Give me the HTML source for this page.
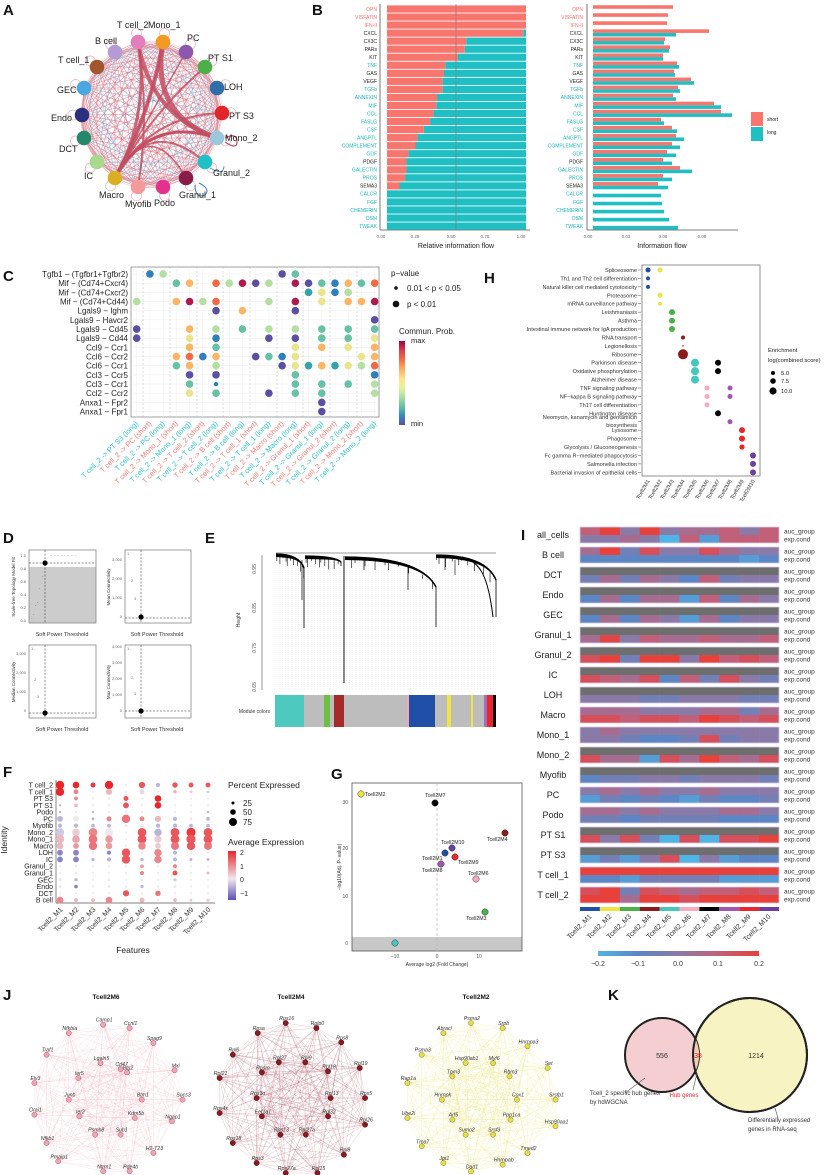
<!DOCTYPE html>
<html><head><meta charset="utf-8">
<style>
html,body{margin:0;padding:0;background:#fff;}
svg{display:block;font-family:"Liberation Sans",Arial,sans-serif;}
</style></head>
<body>
<svg id="s" width="830" height="1175" viewBox="0 0 830 1175" xmlns="http://www.w3.org/2000/svg"></svg>
<script>
const S=document.getElementById('s');const NS='http://www.w3.org/2000/svg';
function el(t,a,txt){const e=document.createElementNS(NS,t);for(const k in a)e.setAttribute(k,a[k]);if(txt!==undefined)e.textContent=txt;S.appendChild(e);return e;}
function R(x,y,w,h,f,o){return el('rect',Object.assign({x,y,width:w,height:h,fill:f},o||{}));}
function C(cx,cy,r,f,o){return el('circle',Object.assign({cx,cy,r,fill:f},o||{}));}
function L(x1,y1,x2,y2,s,w,o){return el('line',Object.assign({x1,y1,x2,y2,stroke:s,'stroke-width':w||1},o||{}));}
function T(x,y,s,sz,f,anc,rot,o){const a=Object.assign({x,y,'font-size':sz,fill:f||'#222','text-anchor':anc||'start'},o||{});if(rot)a.transform=`rotate(${rot} ${x} ${y})`;return el('text',a,s);}
function lerp(a,b,t){return a+(b-a)*t}
function hex(h){return [parseInt(h.slice(1,3),16),parseInt(h.slice(3,5),16),parseInt(h.slice(5,7),16)]}
function ramp(stops,v){
 if(v<=stops[0][0])return stops[0][1];if(v>=stops[stops.length-1][0])return stops[stops.length-1][1];
 for(let i=0;i<stops.length-1;i++){const [a,ca]=stops[i],[b,cb]=stops[i+1];if(v>=a&&v<=b){const t=(v-a)/(b-a),A=hex(ca),B=hex(cb);return `rgb(${Math.round(lerp(A[0],B[0],t))},${Math.round(lerp(A[1],B[1],t))},${Math.round(lerp(A[2],B[2],t))})`;}}}
[['A',3,15],['B',312,15],['C',3,281],['H',484,283],['D',3,543],['E',205,543],['I',521,540],['F',3,777],['G',331,779],['J',3,1000],['K',608,1000]].forEach(p=>T(p[1],p[2],p[0],15,'#111','start',0,{'font-weight':'bold'}));

// ===== Panel A =====
const A=[['T cell_2',138,42,'#E27FBA'],['Mono_1',163,42,'#F39A22'],['PC',186,52,'#8E57AE'],['PT S1',205,67,'#4DAF4A'],['LOH',217,88,'#2F6EA8'],['PT S3',222,113,'#E0262A'],['Mono_2',217,138,'#9CC8DE'],['Granul_2',205,162,'#1FC1C8'],['Granul_1',186,178,'#8A1C48'],['Podo',163,187,'#E2328E'],['Myofib',138,187,'#F59A9A'],['Macro',115,178,'#D9B021'],['IC',97,162,'#A9D98C'],['DCT',84,138,'#23896A'],['Endo',82,115,'#2A2F7E'],['GEC',84,88,'#4BA7DF'],['T cell_1',97,67,'#A2562C'],['B cell',115,52,'#B49BD3']];
for(let i=0;i<A.length;i++)for(let j=i+1;j<A.length;j++){const b=(i*7+j*3)%5==0;L(A[i][1],A[i][2],A[j][1],A[j][2],b?'#6FA7D6':'#CF6A7C',0.7,{opacity:0.6});
 if(!b&&(i+j)%3==0)el('path',{d:`M${A[i][1]},${A[i][2]} Q${(A[i][1]+A[j][1])/2+ (A[j][2]-A[i][2])*0.15},${(A[i][2]+A[j][2])/2-(A[j][1]-A[i][1])*0.15} ${A[j][1]},${A[j][2]}`,fill:'none',stroke:'#E29AA8','stroke-width':0.5,opacity:0.6});}
el('circle',{cx:150,cy:115,r:68,fill:'none',stroke:'#D88796','stroke-width':2.5,opacity:0.6});
[[11,1,4],[11,0,3],[0,6,4],[1,6,5],[11,6,3],[11,5,2],[11,3,2],[0,10,2],[11,2,1.5],[1,11,1.5],[6,11,2.5],[11,7,2],[11,8,1.5]].forEach(e=>{const a=A[e[0]],b=A[e[1]];el('path',{d:`M${a[1]},${a[2]} Q150,115 ${b[1]},${b[2]}`,fill:'none',stroke:'#C24D62','stroke-width':e[2],opacity:0.85});});
A.forEach(n=>{const dx=n[1]-150,dy=n[2]-115,d=Math.hypot(dx,dy);el('circle',{cx:n[1]+dx/d*9,cy:n[2]+dy/d*9,r:5,fill:'none',stroke:'#E4A0AE','stroke-width':0.6});});
el('path',{d:'M225,138 q12,-6 12,4 q0,8 -12,0',fill:'none',stroke:'#C24D62','stroke-width':1.2});
el('path',{d:'M195,185 q0,14 10,10 q6,-6 -6,-12',fill:'none',stroke:'#3B7FC4','stroke-width':1});
el('path',{d:'M210,168 q14,8 14,-2',fill:'none',stroke:'#3B7FC4','stroke-width':0.8});
A.forEach(n=>C(n[1],n[2],7.3,n[3]));
const AL={'T cell_2':[117,28],'Mono_1':[148,28],'PC':[187,41],'PT S1':[208,61],'LOH':[224,90],'PT S3':[229,119],'Mono_2':[225,141],'Granul_2':[213,176],'Granul_1':[179,198],'Podo':[154,206],'Myofib':[125,207],'Macro':[99,198],'IC':[84,179],'DCT':[59,152],'Endo':[51,121],'GEC':[57,93],'T cell_1':[58,63],'B cell':[95,44]};
for(const k in AL)T(AL[k][0],AL[k][1],k,9,'#222');

// ===== Panel B =====
const Bn=['OPN','VISFATIN','IFN-II','CXCL','CX3C','PARs','KIT','TNF','GAS','VEGF','TGFb','ANNEXIN','MIF','CCL','FASLG','CSF','ANGPTL','COMPLEMENT','GDF','PDGF','GALECTIN','PROS','SEMA3','CALCR','FGF','CHEMERIN','OSM','TWEAK'];
const Bf=[1,1,1,.98,.57,.56,.51,.42,.41,.40,.40,.36,.355,.335,.31,.265,.22,.205,.155,.14,.14,.13,.09,0,0,0,0,0];
const Bs=[80,75,74,116,72,77,70,84,81,98,85,80,121,128,68,79,83,79,74,70,87,70,65,0,0,0,0,0];
const Bl=[0,0,0,83,71,76,70,86,82,101,87,83,128,139,71,84,91,87,83,79,99,79,75,68,69,71,76,85];
const blk=['CXCL','CX3C','PARs','KIT','GAS','VEGF','PDGF','SEMA3'];
L(380,4,380,230,'#555',0.8);L(380,230,530,230,'#555',0.8);
L(587,4,587,230,'#555',0.8);L(587,230,738,230,'#555',0.8);
Bn.forEach((n,i)=>{const y=9+i*8.04;const col=i<3?'#F07069':(blk.includes(n)?'#222':'#1DB5BC');
 const w=139;R(387,y-3.6,w*Bf[i],7.2,'#F8766D');R(387+w*Bf[i],y-3.6,w*(1-Bf[i]),7.2,'#1FBFC4');
 T(377,y+1.8,n,5,col,'end');T(583,y+1.8,n,5,col,'end');
 if(Bs[i])R(593,y-3.8,Bs[i],3.6,'#F8766D');if(Bl[i])R(593,y-0.2,Bl[i],3.6,'#1FBFC4');});
L(456,4,456,230,'#777',0.6);
[['0.00',381],['0.25',415],['0.50',451],['0.75',485],['1.00',521]].forEach(t=>T(t[1],238,t[0],4.5,'#666','middle'));
[['0.00',588],['0.03',626],['0.06',663],['0.09',702]].forEach(t=>T(t[1],238,t[0],4.5,'#666','middle'));
T(456,248,'Relative information flow',7,'#222','middle');T(662,248,'Information flow',7,'#222','middle');
R(751,112,12,14,'#F8766D');R(751,127,12,14,'#1FBFC4');T(767,121,'short',5,'#222');T(767,134,'long',5,'#222');

// ===== Panel C =====
el('rect',{x:131,y:267,width:248,height:150,fill:'none',stroke:'#888','stroke-width':0.8});
const cx=c=>136.7+13.22*c, cy=r=>274+9.17*r;
for(let r=0;r<16;r++)L(131,cy(r),379,cy(r),'#eee',0.5);
for(let c=0;c<19;c++)L(cx(c),267,cx(c),417,'#f0f0f0',0.5);
[143,170,197,223,250,277,303,330,357].forEach(x=>L(x,267,x,417,'#bbb',0.5,{'stroke-dasharray':'2,2'}));
const CC={I:'#5B4FA3',B:'#2F7FBF',T:'#34A3A3',G:'#66C2A5',L:'#B4DFA2',Y:'#E9E58C',O:'#FDB564',R:'#F06A45',C:'#AE1A4C',b:'#2F7FBF'};
const CR=[".BL........IG......","...GO.RLCIL.CIGBOGR",".............TYBL..","L..OCLR...L.C.Y.OOC","......I.O...I......","..................I","I...O.L.G.L.L.G.G.G","I...Y.B...I.I.G.G.Y","....O.G.....Y.O.Y.O","...ORBO..IGBY....YO","...GO.L....IYTOTYLR","....I.I.....G.....B","....G.b.....G.G.G.L","....Y.G...I.G.G...L","..............I....","..............I...."];
CR.forEach((s,r)=>{for(let c=0;c<19;c++){const ch=s[c];if(ch!=='.')C(cx(c),cy(r),ch==='b'?2.2:3.8,CC[ch]);}});
["Tgfb1 − (Tgfbr1+Tgfbr2)","Mif  − (Cd74+Cxcr4)","Mif  − (Cd74+Cxcr2)","Mif  − (Cd74+Cd44)","Lgals9  − Ighm","Lgals9  − Havcr2","Lgals9  − Cd45","Lgals9  − Cd44","Ccl9  − Ccr1","Ccl6  − Ccr2","Ccl6  − Ccr1","Ccl3  − Ccr5","Ccl3  − Ccr1","Ccl2  − Ccr2","Anxa1  − Fpr2","Anxa1  − Fpr1"].forEach((s,r)=>T(128,cy(r)+3,s,8,'#222','end',0,{'xml:space':'preserve'}));
const tg=['PT S3','PC','PC','Mono_1','Mono_1','T cell_2','T cell_2','B cell','B cell','T cell_1','T cell_1','Macro','Macro','Granul_1','Granul_1','Granul_2','Granul_2','Mono_2','Mono_2'];
tg.forEach((t,c)=>{const lg=(c%2===0);T(cx(c)+2,424,`T cell_2 -> ${t} (${lg?'long':'short'})`,7.3,lg?'#2EC4C8':'#F47A74','end',-45);});
T(391,276,'p−value',8,'#222');C(396,288,1.8,'#111');T(407,291,'0.01 < p < 0.05',8,'#222');C(396,304,3.3,'#111');T(407,307,'p < 0.01',8,'#222');
T(399,334,'Commun. Prob.',8,'#222');T(411,343,'max',7.5,'#222');T(411,426,'min',7.5,'#222');
const defs=el('defs',{});
function grad(id,x2,y2,stops){const g=document.createElementNS(NS,'linearGradient');g.setAttribute('id',id);g.setAttribute('x1',0);g.setAttribute('y1',0);g.setAttribute('x2',x2);g.setAttribute('y2',y2);stops.forEach(s=>{const st=document.createElementNS(NS,'stop');st.setAttribute('offset',s[0]);st.setAttribute('stop-color',s[1]);g.appendChild(st);});defs.appendChild(g);}
grad('spec',0,1,['#9E0142','#D53E4F','#F46D43','#FDAE61','#FEE08B','#E6F598','#ABDDA4','#66C2A5','#3288BD','#5E4FA2'].map((c,i)=>[i/9,c]));
R(399,341,6,84,'url(#spec)');

// ===== Panel H =====
el('rect',{x:642,y:265,width:118,height:211,fill:'none',stroke:'#777','stroke-width':0.8});
const Ht=['Spliceosome','Th1 and Th2 cell differentiation','Natural killer cell mediated cytotoxicity','Proteasome','mRNA surveillance pathway','Leishmaniasis','Asthma','Intestinal immune network for IgA production','RNA transport','Legionellosis','Ribosome','Parkinson disease','Oxidative phosphorylation','Alzheimer disease','TNF signaling pathway','NF−kappa B signaling pathway','Th17 cell differentiation','Huntington disease','Neomycin, kanamycin and gentamicin','Lysosome','Phagosome','Glycolysis / Gluconeogenesis','Fc gamma R−mediated phagocytosis','Salmonella infection','Bacterial invasion of epithelial cells'];
const hy=i=>270+8.43*i;
Ht.forEach((t,i)=>{let y=hy(i);if(i===18)y=417;T(637,y+2,t,5.6,'#333','end');L(638,hy(i),641,hy(i),'#555',0.5);});
T(637,427,'biosynthesis',5.6,'#333','end');
const HX=[648,660,672,683,695,707,718,730,742,753];
const HC=['#1F4FA6','#EDE342','#4DAF4A','#8B1A1A','#45C7C0','#F7AABF','#000','#A057B0','#E8262B','#6A3FA0'];
[[0,0,2.5],[0,1,2.5],[1,0,2],[2,0,2],[3,1,2.5],[4,1,2],[5,2,3],[6,2,3],[7,2,3],[8,3,2],[9,3,0.8],[10,3,5],[11,4,4],[11,6,3],[12,4,4],[12,6,3],[13,4,4],[14,5,2.5],[14,7,2.5],[15,5,2.5],[15,7,2.5],[16,5,2.5],[17,6,3],[18,7,2.5],[19,8,3],[20,8,3],[21,8,2.6],[22,9,3],[23,9,3],[24,9,3]].forEach(d=>C(HX[d[1]],hy(d[0]),d[2],HC[d[1]]));
HX.forEach((x,i)=>T(x+2,481,'Tcell2M'+(i+1),5.5,'#333','end',-60));
T(768,352,'Enrichment',5.8,'#222');T(768,362,'log(combined score)',5.8,'#222');
[[373,2,'5.0'],[381,2.8,'7.5'],[391,3.6,'10.0']].forEach(d=>{C(773,d[0],d[1],'#000');T(781,d[0]+2,d[2],5.8,'#222');});

// ===== Panel D =====
function box(x,y,w,h){el('rect',{x,y,width:w,height:h,fill:'none',stroke:'#888','stroke-width':0.8});}
R(29,567,67,56,'#CCCCCC');box(29,550,67,73);box(125,550,66,73);box(29,645,67,73);box(125,645,66,73);
L(45,550,45,623,'#222',0.5,{'stroke-dasharray':'2,1.5'});L(29,563,96,563,'#222',0.5,{'stroke-dasharray':'2,1.5'});C(45,563,2.6,'#000');
T(50,557,'~ ~ ~ ~ ~ ~ ~ ~',4,'#777');
[[31,620],[33,616],[35,607],[37,604],[39,590],[42,578]].forEach(p=>T(p[0],p[1],'·',5,'#555'));
L(141,550,141,623,'#222',0.5,{'stroke-dasharray':'2,1.5'});L(125,618,191,618,'#222',0.5,{'stroke-dasharray':'2,1.5'});C(141,617,2.6,'#000');T(127,555,'1',4,'#777');T(131,582,'2',4,'#777');T(134,600,'3',4,'#777');
L(45,645,45,718,'#222',0.5,{'stroke-dasharray':'2,1.5'});L(29,713,96,713,'#222',0.5,{'stroke-dasharray':'2,1.5'});C(45,713,2.6,'#000');T(31,650,'1',4,'#777');T(34,681,'2',4,'#777');T(37,698,'3',4,'#777');
L(141,645,141,718,'#222',0.5,{'stroke-dasharray':'2,1.5'});L(125,711,191,711,'#222',0.5,{'stroke-dasharray':'2,1.5'});C(141,711,2.6,'#000');T(127,650,'1',4,'#777');T(131,679,'2',4,'#777');T(134,695,'3',4,'#777');
[[62,636],[157,636],[62,731],[157,731]].forEach(p=>T(p[0],p[1],'Soft Power Threshold',5.5,'#333','middle'));
T(15,587,'Scale-free Topology Model Fit',4.5,'#333','middle',-90);T(110,587,'Mean Connectivity',4.5,'#333','middle',-90);
T(15,682,'Median Connectivity',4.5,'#333','middle',-90);T(110,682,'Max Connectivity',4.5,'#333','middle',-90);
['1.0','0.8','0.6','0.4','0.2','0.0'].forEach((t,i)=>T(26,557+i*13,t,4,'#666','end'));
['3,000','2,000','1,000','0'].forEach((t,i)=>T(122,561+i*19,t,4,'#666','end'));
['3,000','2,000','1,000','0'].forEach((t,i)=>T(26,655+i*19,t,4,'#666','end'));
['4,000','3,000','2,000','1,000','0'].forEach((t,i)=>T(122,648+i*16,t,4,'#666','end'));

// ===== Panel E =====
for(let x=276;x<496;x+=3.2)L(x,560,x,690,'#ddd',0.4,{'stroke-dasharray':'1,1'});
L(262,555,262,690,'#555',0.6);
[['0.95',569],['0.85',608],['0.75',648],['0.65',687]].forEach(t=>T(256,t[1],t[0],5,'#555','middle',-90));
T(240,620,'Height',5,'#333','middle',-90);
L(276,553,496,553,'#333',0.6);
function clus(a,b,t,drop,dy,seed){
 for(let k=0;k<4;k++)el('path',{d:`M${a},${t+k*0.8} C${a+(b-a)*0.6},${t+k} ${b-(b-a)*0.1},${t+drop*0.4} ${b},${t+drop}`,fill:'none',stroke:'#000','stroke-width':1.2});
 for(let i=0;i<10;i++){const u=((i*37+seed)%100)/100;const x=a+(b-a)*u;const y0=t+Math.pow(u,3)*drop*0.9+1;L(x,y0,x,y0+3+((i*13+seed)%9),'#000',0.6);}
 L(b,t+drop,b,t+dy,'#000',0.8);}
clus(276,304,554,14,74,3);clus(305,341,556,6,10,7);L(344,556,344,683,'#000',0.9);clus(345,436,557,30,70,11);clus(436,496,555,25,62,5);
el('path',{d:'M462,557 C480,562 488,575 493,617',fill:'none',stroke:'#000','stroke-width':1});
L(302,560,302,600,'#000',0.7);L(408,565,408,590,'#000',0.7);L(364,559,364,570,'#000',0.7);L(445,558,445,570,'#000',0.6);L(455,560,455,575,'#000',0.6);
const EM=[[275,304,'#4EC9C0'],[304,324,'#BDBDBD'],[324,330,'#6DBE45'],[330,334,'#BDBDBD'],[334,344,'#A52A2A'],[344,407,'#BDBDBD'],[407,409,'#F4A6B8'],[409,435,'#1F4FA6'],[435,447,'#BDBDBD'],[447,451,'#F0E442'],[451,471,'#BDBDBD'],[471,473,'#F0E442'],[473,484,'#BDBDBD'],[484,487,'#A070C0'],[487,493,'#E8262B'],[493,496,'#000']];
EM.forEach(m=>R(m[0],695,m[1]-m[0],32,m[2]));
T(270,713,'Module colors',5,'#333','end');

// ===== Panel I =====
const IG=['all_cells','B cell','DCT','Endo','GEC','Granul_1','Granul_2','IC','LOH','Macro','Mono_1','Mono_2','Myofib','PC','Podo','PT S1','PT S3','T cell_1','T cell_2'];
const g=null;
const IT=[[1,2,0,2,0,0.5,0.5,1,0,1],[0.5,2,-0.5,1.5,0,0,1.5,0.5,0,0],g,g,g,g,g,g,g,[0.5,0.5,0.5,0,0,0,0.5,0.5,-0.5,0.5],[0,0.5,0,0,0,0,0,0,0,0],g,g,[0,0.5,0,0.5,0,0,0.5,0,0,0],[0.5,0.5,0,0.5,0,0,0,0.5,0.5,0],g,g,[2,2,2,2,2,2,2,2,2,2],[1.5,2,-0.5,1.5,1,0.5,1,1,1.5,1]];
const IB=[[0,0,0.5,0,-2,1,-1.5,1,1,1],[-1,-1,-1,-1,-1,-1,-1,-1,-1.5,-1],[-0.5,0.5,-0.5,0.5,0,-1,1,-0.5,0,0],[-1,0.5,-1,0.5,0.5,-1.5,1,-1,0.5,0],[-1,0.5,-1,0.5,0,-1.5,0.5,-1,0,0],[0.5,1.8,0,1,0.5,0.5,1,0.5,0.5,1],[1.5,2,-0.5,2,2,0,2,1,1.5,1],[1.5,1,0.5,1.5,-1,1,-0.5,1.5,0,-0.5],[0,0,0,-0.5,-0.5,0,0,0,-0.5,-0.5],[1.5,1.5,1,1.5,1.5,1,2,1.5,1,1.5],[0,0,-0.5,-1,-1,-0.5,1.5,-0.5,0,0],[1.5,0.5,0.5,-1.5,1.5,0.5,2,1,0.5,1.5],[-1,-0.5,-0.5,0,0,-0.5,0,0,0,-0.5],[-1.5,-0.5,-1,-0.5,-1,-1.5,-0.5,-1,-1,-0.5],[-0.5,-0.5,-1,-0.5,-0.5,-0.5,-0.5,-1,-1,-1],[1.5,0,1.5,-0.5,-2,1.5,-2,1.5,1.5,2],[-1.5,-0.5,-1.5,0,1.5,-2.5,0,-1.5,-1,-1],[-1,-1,-1.5,-0.5,-0.5,-0.5,-0.5,-1.5,-1.5,-1.5],[2,2,0.5,2,2,1.5,2,2,2,2]];
const IS=[[-2,'#4FB4E6'],[-1,'#5C86C4'],[0,'#8A7AA8'],[1,'#C2607A'],[2,'#E8403A']];
IG.forEach((n,k)=>{const y=527+k*20;const cw=19.9;
 for(let c=0;c<10;c++){const x=580+c*cw;
  R(x,y,cw+0.3,8,IT[k]?ramp(IS,IT[k][c]):'#6E6E6E');
  R(x,y+8,cw+0.3,8,ramp(IS,IB[k][c]));}
 el('rect',{x:580,y:y,width:199,height:16,fill:'none',stroke:'#D8CDE6','stroke-width':0.8});
 T(553,y+11,n,9,'#222','middle');T(784,y+6.5,'auc_group',6.5,'#333');T(784,y+14.5,'exp.cond',6.5,'#333');});
HC.forEach((c,i)=>{R(580+i*19.9,907,19.9,4,c==='#EDE342'?'#F0E442':c);T(580+i*19.9+12,917,'Tcell2_M'+(i+1),7,'#333','end',-45);});
grad('ig',1,0,IS.map((s,i)=>[i/4,s[1]]));
R(598,951,161,5,'url(#ig)');
[['−0.2',598],['−0.1',638],['0.0',678],['0.1',718],['0.2',759]].forEach(t=>T(t[1],966,t[0],7,'#333','middle'));

// ===== Panel F =====
const FR=['T cell_2','T cell_1','PT S3','PT S1','Podo','PC','Myofib','Mono_2','Mono_1','Macro','LOH','IC','Granul_2','Granul_1','GEC','Endo','DCT','B cell'];
const FV=[[2,2,1.8,2,0,1.5,-0.5,1.5,1.5,1.5],[2,1,0,0.5,0,0.2,0,0.5,0.3,0.3],[0,1,0,0,1.5,0,2,0,0,0],[-0.5,0.5,0,0,1.5,0,2,0,0,0],[-0.5,0,-0.5,0,0,0,0,0,0,-0.5],[-0.5,0,-0.5,1,1.2,1,0.5,-0.5,0,-0.5],[-0.5,-0.5,-0.5,-0.5,0,0,-0.5,-0.5,-0.5,-0.5],[-0.3,0.3,1,0,0,1.5,-0.5,1.5,1.8,1.5],[0.5,0.7,1.2,0.8,0,1.5,0.3,1.5,1.5,1.5],[0.5,0.8,1.2,0.8,0,1,0.3,1.2,1.5,1.2],[-1,-1,0,-1,1.5,0,1,-0.5,0,0],[-1,-1,-0.5,-0.5,1.5,-0.5,1,-0.5,-0.5,-0.5],[0,0,0,0,0,0.8,0,1,0,0],[0,0,0,0,0,1,0,1.5,0,0.5],[0,-0.5,0,0,0,0,0,-0.3,0,0],[0,-1,0,0,0,-0.5,0,0,0,0],[0,0,0,0,1.5,0,1.2,0,0,0],[1,0.5,0.5,1,0,0.5,0,0.5,0.3,0.3]];
const FS=[[.85,.65,.45,.85,.1,.6,.35,.5,.45,.45],[.85,.45,.1,.6,.1,.45,.1,.3,.2,.2],[.1,.3,.1,.15,.45,.1,.65,.1,.1,.1],[.15,.3,.1,.15,.55,.1,.65,.1,.1,.1],[.15,.1,.15,.1,.1,.1,.1,.1,.1,.15],[.55,.55,.2,.45,.85,.45,.6,.35,.2,.3],[.35,.35,.3,.3,.2,.3,.35,.35,.3,.3],[.85,.75,.9,.85,.1,.9,.75,.9,.95,.9],[.85,.75,.9,.75,.1,.9,.7,.9,.95,.9],[.65,.55,.85,.65,.1,.75,.55,.8,.85,.8],[.55,.55,.15,.35,.85,.15,.75,.35,.15,.15],[.55,.55,.25,.35,.85,.25,.75,.35,.2,.2],[.1,.15,.1,.1,.1,.3,.1,.35,.1,.1],[.1,.15,.1,.1,.1,.35,.1,.45,.1,.2],[.25,.25,.1,.2,.1,.2,.1,.25,.1,.1],[.2,.3,.1,.2,.1,.25,.1,.2,.1,.1],[.1,.1,.1,.1,.6,.1,.5,.1,.1,.1],[.65,.35,.3,.65,.1,.45,.1,.3,.2,.25]];
const FX=[60,76,93,109,126,142,158,175,191,208];
const FSt=[[-1.5,'#5B4FB3'],[0,'#ECE8EE'],[2,'#E8262B']];
L(56,780,56,903,'#555',0.7);L(56,903,215,903,'#555',0.7);
FR.forEach((n,r)=>{const y=785+r*6.77;T(53,y+2.5,n,7,'#222','end');
 FX.forEach((x,c)=>C(x,y,0.6+4.2*FS[r][c],ramp(FSt,FV[r][c])));});
FX.forEach((x,i)=>T(x+3,910,'Tcell2_M'+(i+1),7,'#333','end',-45));
T(133,953,'Features',8.5,'#222','middle');T(7,840,'Identity',8.5,'#222','middle',-90);
T(228,788,'Percent Expressed',8.5,'#222');
[[803,1.5,'25'],[812,2.8,'50'],[822,4,'75']].forEach(d=>{C(233,d[0],d[1],'#000');T(243,d[0]+3,d[2],8,'#222');});
T(228,845,'Average Expression',8.5,'#222');
grad('fg',0,1,[['0','#E8262B'],['0.57','#F0E8EE'],['1','#5B4FB3']]);
R(228,851,8,49,'url(#fg)');[['2',855],['1',869],['0',882],['−1',896]].forEach(t=>T(240,t[1],t[0],7,'#222'));

// ===== Panel G =====
R(352,937,170,14,'#C8C8C8');
el('rect',{x:352,y:783,width:170,height:168,fill:'none',stroke:'#555','stroke-width':0.8});
L(437,783,437,951,'#bbb',0.7,{'stroke-dasharray':'3,2'});
[['30',802],['20',848],['10',896],['0',943]].forEach(t=>T(348,t[1]+2,t[0],5,'#555','end'));
[['−10',395],['0',437],['10',479]].forEach(t=>T(t[1],958,t[0],5,'#555','middle'));
T(437,966,'Average log2 (Fold Change)',5,'#333','middle');T(341,867,'−log10(Adj. P−value)',5,'#333','middle',-90);
[['Tcell2M2',361,794,'#EDE342',365,796],['Tcell2M7',435,803,'#000',425,797],['Tcell2M4',505,833,'#8B1A1A',487,841],['Tcell2M10',452,848,'#6A3FA0',441,844],['Tcell2M1',445,853,'#1F4FA6',422,860],['Tcell2M9',455,857,'#E8262B',458,864],['Tcell2M8',441,864,'#A057B0',422,872],['Tcell2M6',476,879,'#F7AABF',468,875],['Tcell2M3',485,912,'#4DAF4A',466,920],['',395,943,'#45C7C0',0,0]].forEach(p=>{C(p[1],p[2],3.2,p[3],{stroke:'#333','stroke-width':0.5});if(p[0])T(p[4],p[5],p[0],5.2,'#222');});

// ===== Panel J =====
function net(title,cx,nodes,fill,stroke,ec,eo){T(cx,999,title,6.5,'#111','middle',0,{'font-weight':'bold'});
 const P=nodes.map(n=>[n[1]/1.89,980+n[2]/3+3,n[0]]);
 for(let i=0;i<P.length;i++)for(let j=i+1;j<P.length;j++)if((i+j*3)%4!==1)L(P[i][0],P[i][1],P[j][0],P[j][1],ec,0.45,{opacity:eo});
 P.forEach(p=>{C(p[0],p[1],2.6,fill,{stroke:stroke,'stroke-width':0.5});T(p[0]+1,p[1]-3,p[2],5.2,'#333','middle',0,{'font-style':'italic'});});}
net('Tcell2M6',106,[['Camp1',195,125],['Ccnl1',245,135],['Nfkbia',130,150],['Spag9',290,180],['Traf1',88,215],['Lgaln5',190,240],['Cd47',228,258],['Ier5',148,285],['Mxi',330,262],['Btg2',240,268],['Elv3',65,300],['Junb',130,350],['Btm1',268,350],['Socs3',345,350],['Orai1',65,395],['Ier2',150,400],['Kdm5b',255,405],['Ngap1',325,415],['Psmb8',180,455],['Sub1',228,455],['Nfkb1',88,480],['H2-T23',290,510],['Pmaip1',110,535],['Ntrm1',195,565],['Pde4b',245,565]],'#F3A3B3','#A65A6A','#F1A9B8',0.35);
net('Tcell2M4',291,[['Rps16',540,120],['Rplp0',598,135],['Rpsa',487,150],['Rps8',645,178],['Rpl6',440,215],['Rpl27',527,238],['Rpl9',577,238],['Rpl19',680,255],['Rpl21',415,285],['Rpsm',495,268],['Rpl18',620,265],['Rps5',690,345],['Rps3o',485,345],['Rpl13',625,345],['Rps4x',415,390],['Eef1a1',495,400],['Rpl32',620,400],['Rpl26',690,425],['Rps13',530,455],['Rpl27a',578,455],['Rps18',440,480],['Rpl8',650,515],['Rps3',485,540],['Rps27a',540,570],['Rpl15',600,570]],'#8B1A22','#400','#9E3040',0.3);
net('Tcell2M2',476,[['Psma2',890,120],['Srpb',950,135],['Abracl',838,150],['Hnrnpa3',997,190],['Psma3',797,215],['Hsp90ab1',880,240],['Myl6',932,240],['Set',1035,255],['Rap1a',770,300],['Tpm3',855,280],['Rbm3',963,280],['Hnrnpk',835,350],['Cox1',977,350],['Srsfp1',1050,350],['Ube2i',770,405],['Arf5',855,410],['Ppp1ca',965,410],['Hsp90aa1',1050,430],['Sumo2',880,455],['Srsf3',932,455],['Tma7',797,490],['Tmed2',997,510],['Jpt1',838,540],['Dad1',890,565],['Hnrnpab',950,545]],'#E9DF3C','#776','#EDE77A',0.45);

// ===== Panel K =====
C(750,1055,57,'#F7F3C2',{stroke:'#222','stroke-width':2});
C(662,1055,37,'#F3C9CB',{stroke:'#222','stroke-width':2,'fill-opacity':0.9});
el('path',{d:'M695,1038 A37,37 0 0 1 695,1072 A57,57 0 0 1 695,1038',fill:'#F2CDB0'});
C(750,1055,57,'none',{stroke:'#222','stroke-width':2});
T(662,1058,'556',7,'#333','middle');T(698,1058,'38',7,'#E8262B','middle');T(756,1058,'1214',7,'#333','middle');
L(645,1078,625,1093,'#555',0.6);L(697,1073,693,1090,'#555',0.6);L(775,1108,778,1118,'#555',0.6);
T(590,1095,'Tcell_2 specific hub genes',6,'#333');T(590,1104,'by hdWGCNA',6,'#333');
T(684,1097,'Hub genes',6,'#E8262B','middle');
T(748,1122,'Differentially expressed',6,'#333');T(748,1131,'genes in RNA-seq',6,'#333');
</script>
</body></html>
